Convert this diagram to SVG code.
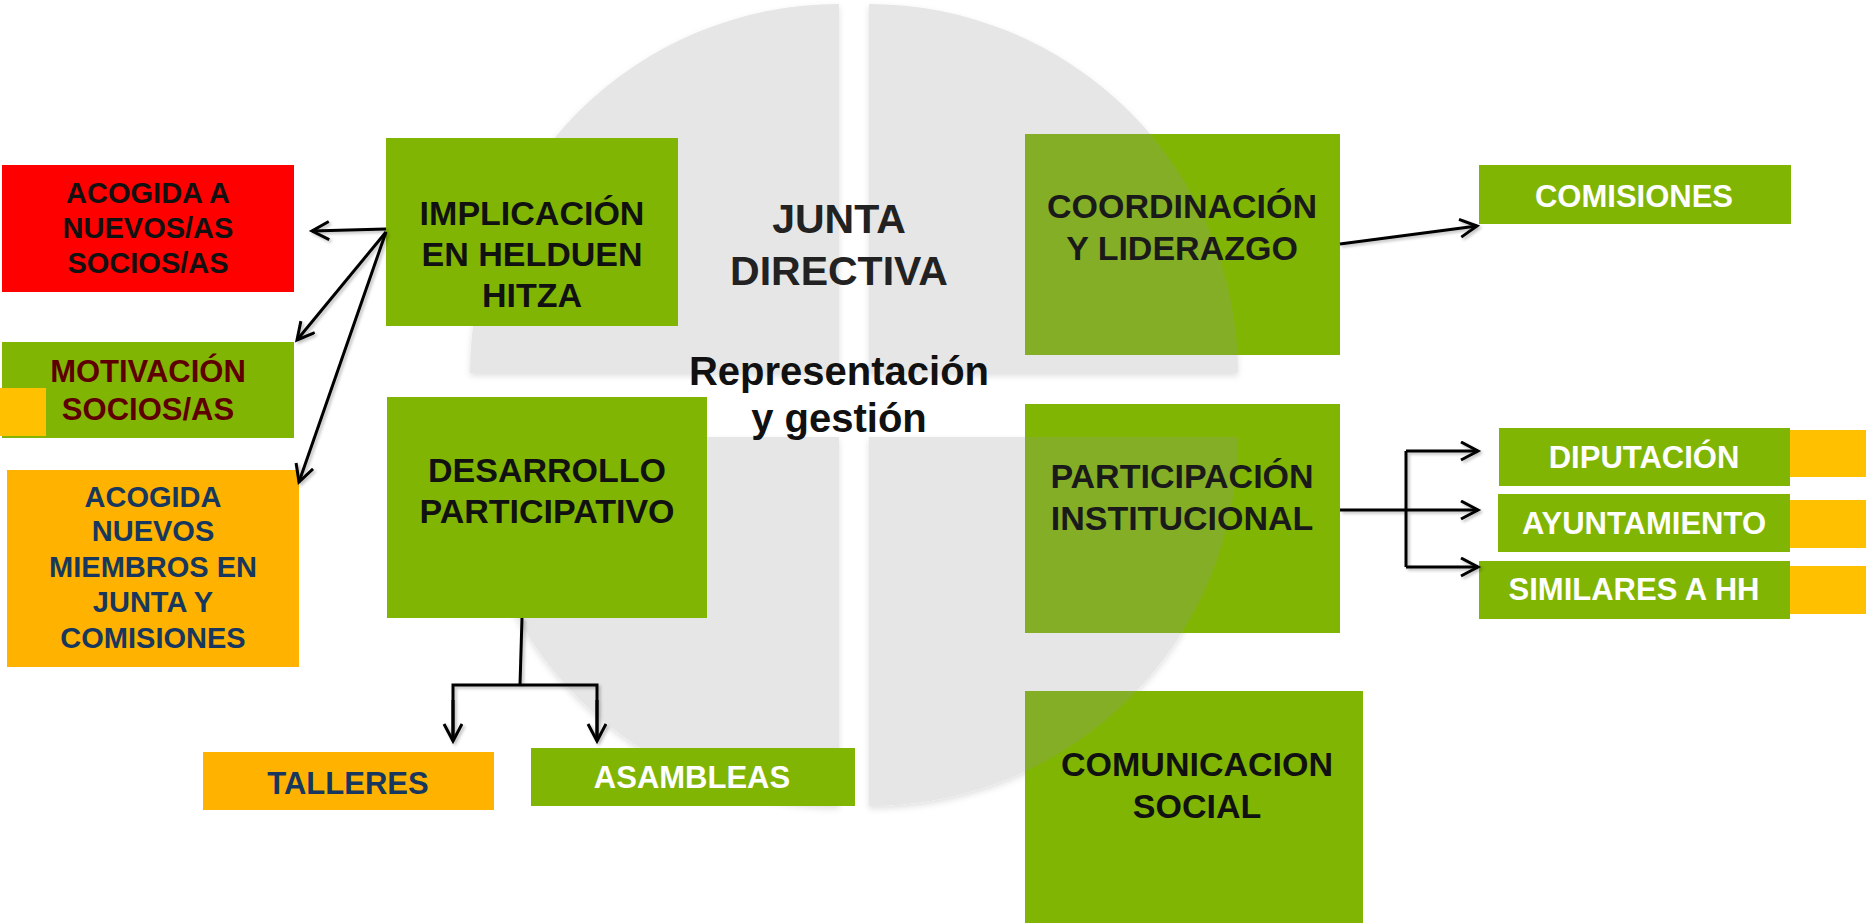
<svg xmlns="http://www.w3.org/2000/svg" width="1866" height="923" viewBox="0 0 1866 923">
<style>
  text { font-family: "Liberation Sans", Arial, sans-serif; font-weight: bold; text-anchor: middle; }
  .green { fill: #80b504; }
  .red { fill: #ff0000; }
  .orange { fill: #ffb300; }
  .yellow { fill: #ffc000; }
  .quad { fill: #e6e6e6; }
  .blk { fill: #111111; }
  .wht { fill: #ffffff; }
  .navy { fill: #17375e; }
  .maroon { fill: #5e0000; }
  .conn { stroke: #000; stroke-width: 3; fill: none; }
  .arr { marker-end: url(#ah); }
</style>
<defs>
  <marker id="ah" markerUnits="userSpaceOnUse" markerWidth="24" markerHeight="24" refX="18" refY="10" orient="auto">
    <path d="M1,1 L18,10 L1,19" fill="none" stroke="#000" stroke-width="3"/>
  </marker>
  <filter id="qs" x="-5%" y="-5%" width="110%" height="110%">
    <feDropShadow dx="0" dy="3" stdDeviation="3" flood-color="#000" flood-opacity="0.12"/>
  </filter>
  <filter id="ls" x="-20%" y="-20%" width="140%" height="140%">
    <feDropShadow dx="2" dy="2" stdDeviation="1.5" flood-color="#000" flood-opacity="0.25"/>
  </filter>
  <clipPath id="rightBoxes">
    <rect x="1025" y="134" width="315" height="221"/>
    <rect x="1025" y="404" width="315" height="229"/>
    <rect x="1025" y="691" width="338" height="232"/>
  </clipPath>
</defs>

<g id="background" filter="url(#qs)">
  <path class="quad" d="M839,373 L470,373 A369,369 0 0 1 839,4 Z"/>
  <path class="quad" d="M869,373 L869,4 A369,369 0 0 1 1238,373 Z"/>
  <path class="quad" d="M839,437 L839,806 A369,369 0 0 1 470,437 Z"/>
  <path class="quad" d="M869,437 L1238,437 A369,369 0 0 1 869,806 Z"/>
</g>

<g id="center-label">
  <text x="839" y="233" font-size="41" fill="#222">JUNTA</text>
  <text x="839" y="285" font-size="41" fill="#222">DIRECTIVA</text>
  <text x="839" y="385" font-size="40" class="blk">Representación</text>
  <text x="839" y="432" font-size="40" class="blk">y gestión</text>
</g>

<g id="acogida-socios">
  <rect class="red" x="2" y="165" width="292" height="127"/>
  <text x="148" y="203" font-size="29" class="blk">ACOGIDA A</text>
  <text x="148" y="238" font-size="29" class="blk">NUEVOS/AS</text>
  <text x="148" y="273" font-size="29" class="blk">SOCIOS/AS</text>
</g>

<g id="motivacion">
  <rect class="green" x="2" y="342" width="292" height="96"/>
  <rect class="yellow" x="0" y="388" width="46" height="48"/>
  <text x="148" y="382" font-size="31" class="maroon">MOTIVACIÓN</text>
  <text x="148" y="420" font-size="31" class="maroon">SOCIOS/AS</text>
</g>

<g id="acogida-miembros">
  <rect class="orange" x="7" y="470" width="292" height="197"/>
  <text x="153" y="507" font-size="29" class="navy">ACOGIDA</text>
  <text x="153" y="541" font-size="29" class="navy">NUEVOS</text>
  <text x="153" y="577" font-size="29" class="navy">MIEMBROS EN</text>
  <text x="153" y="612" font-size="29" class="navy">JUNTA Y</text>
  <text x="153" y="648" font-size="29" class="navy">COMISIONES</text>
</g>

<g id="implicacion">
  <rect class="green" x="386" y="138" width="292" height="188"/>
  <text x="532" y="225" font-size="34" class="blk">IMPLICACIÓN</text>
  <text x="532" y="266" font-size="34" class="blk">EN HELDUEN</text>
  <text x="532" y="307" font-size="34" class="blk">HITZA</text>
</g>

<g id="desarrollo">
  <rect class="green" x="387" y="397" width="320" height="221"/>
  <text x="547" y="482" font-size="34" class="blk">DESARROLLO</text>
  <text x="547" y="523" font-size="34" class="blk">PARTICIPATIVO</text>
</g>

<g id="talleres">
  <rect class="orange" x="203" y="752" width="291" height="58"/>
  <text x="348" y="794" font-size="31" class="navy">TALLERES</text>
</g>

<g id="asambleas">
  <rect class="green" x="531" y="748" width="324" height="58"/>
  <text x="692" y="788" font-size="31" class="wht">ASAMBLEAS</text>
</g>

<g id="coordinacion">
  <rect class="green" x="1025" y="134" width="315" height="221"/>
</g>
<g id="participacion">
  <rect class="green" x="1025" y="404" width="315" height="229"/>
</g>
<g id="comunicacion">
  <rect class="green" x="1025" y="691" width="338" height="232"/>
</g>

<g id="overlay" clip-path="url(#rightBoxes)">
  <path fill="#84ae26" d="M869,373 L869,4 A369,369 0 0 1 1238,373 Z"/>
  <path fill="#84ae26" d="M869,437 L1238,437 A369,369 0 0 1 869,806 Z"/>
</g>

<g id="right-labels">
  <text x="1182" y="218" font-size="34" fill="#1a1a1a">COORDINACIÓN</text>
  <text x="1182" y="260" font-size="34" fill="#1a1a1a">Y LIDERAZGO</text>
  <text x="1182" y="488" font-size="34" fill="#1a1a1a">PARTICIPACIÓN</text>
  <text x="1182" y="530" font-size="34" fill="#1a1a1a">INSTITUCIONAL</text>
  <text x="1197" y="776" font-size="34" class="blk">COMUNICACION</text>
  <text x="1197" y="818" font-size="34" class="blk">SOCIAL</text>
</g>

<g id="comisiones">
  <rect class="green" x="1479" y="165" width="312" height="59"/>
  <text x="1634" y="207" font-size="31" class="wht">COMISIONES</text>
</g>

<g id="diputacion">
  <rect class="yellow" x="1787" y="430" width="79" height="47"/>
  <rect class="green" x="1499" y="428" width="291" height="58"/>
  <text x="1644" y="468" font-size="31" class="wht">DIPUTACIÓN</text>
</g>

<g id="ayuntamiento">
  <rect class="yellow" x="1789" y="500" width="77" height="48"/>
  <rect class="green" x="1498" y="494" width="292" height="58"/>
  <text x="1644" y="534" font-size="31" class="wht">AYUNTAMIENTO</text>
</g>

<g id="similares">
  <rect class="yellow" x="1787" y="566" width="79" height="48"/>
  <rect class="green" x="1479" y="561" width="311" height="58"/>
  <text x="1634" y="600" font-size="31" class="wht">SIMILARES A HH</text>
</g>

<g id="connectors" filter="url(#ls)">
  <line class="conn arr" x1="386" y1="229" x2="312" y2="231"/>
  <line class="conn arr" x1="386" y1="232" x2="297" y2="340"/>
  <line class="conn arr" x1="386" y1="232" x2="299" y2="482"/>
  <line class="conn" x1="522" y1="618" x2="520" y2="685"/>
  <polyline class="conn" points="453,741 453,685 597,685 597,741"/>
  <line class="conn arr" x1="453" y1="700" x2="453" y2="741"/>
  <line class="conn arr" x1="597" y1="700" x2="597" y2="741"/>
  <line class="conn arr" x1="1340" y1="244" x2="1477" y2="226"/>
  <line class="conn" x1="1340" y1="510" x2="1406" y2="510"/>
  <line class="conn" x1="1406" y1="451" x2="1406" y2="567"/>
  <line class="conn arr" x1="1406" y1="451" x2="1478" y2="451"/>
  <line class="conn arr" x1="1406" y1="510" x2="1478" y2="510"/>
  <line class="conn arr" x1="1406" y1="567" x2="1478" y2="567"/>
</g>
</svg>
